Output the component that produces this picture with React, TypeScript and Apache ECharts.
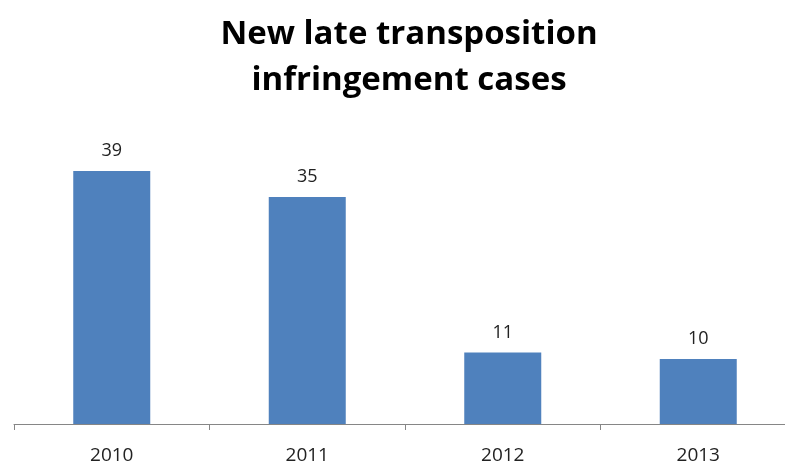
import React, { useEffect, useRef } from "react";
import * as echarts from "echarts";

const categories = ["2010", "2011", "2012", "2013"];
const values = [39, 35, 11, 10];
const titleLines = ["New late transposition", "infringement cases"];

export default function App() {
  const ref = useRef<HTMLDivElement>(null);
  useEffect(() => {
    if (!ref.current) return;
    const chart = echarts.init(ref.current, null, { renderer: "svg" });
    chart.setOption({
      animation: false,
      title: {
        text: titleLines.join("\n"),
        left: 404,
        textAlign: "center",
        top: 3,
        textStyle: {
          fontFamily: "Open Sans",
          fontWeight: "bold",
          fontSize: 33,
          lineHeight: 46,
          color: "#000000",
        },
      },
      grid: {
        left: 14,
        top: 132,
        bottom: 42,
        width: 782,
        outerBoundsMode: "none",
        containLabel: false,
      },
      xAxis: {
        type: "category",
        data: categories,
        axisLine: { lineStyle: { color: "#868686", width: 1 } },
        axisTick: { show: true, length: 6, lineStyle: { color: "#868686" } },
        axisLabel: {
          fontFamily: "Open Sans",
          fontSize: 19,
          color: "#222222",
          margin: 20,
        },
      },
      yAxis: {
        type: "value",
        min: 0,
        max: 45,
        show: false,
        splitLine: { show: false },
      },
      series: [
        {
          type: "bar",
          data: values,
          barWidth: 77,
          itemStyle: { color: "#4F81BD" },
          label: {
            show: true,
            position: "top",
            distance: 13,
            fontFamily: "Open Sans",
            fontSize: 18,
            color: "#222222",
          },
        },
      ],
    });
    return () => chart.dispose();
  }, []);
  return (
    <div
      ref={ref}
      style={{ position: "fixed", left: 0, top: 0, width: 785, height: 466 }}
    />
  );
}
